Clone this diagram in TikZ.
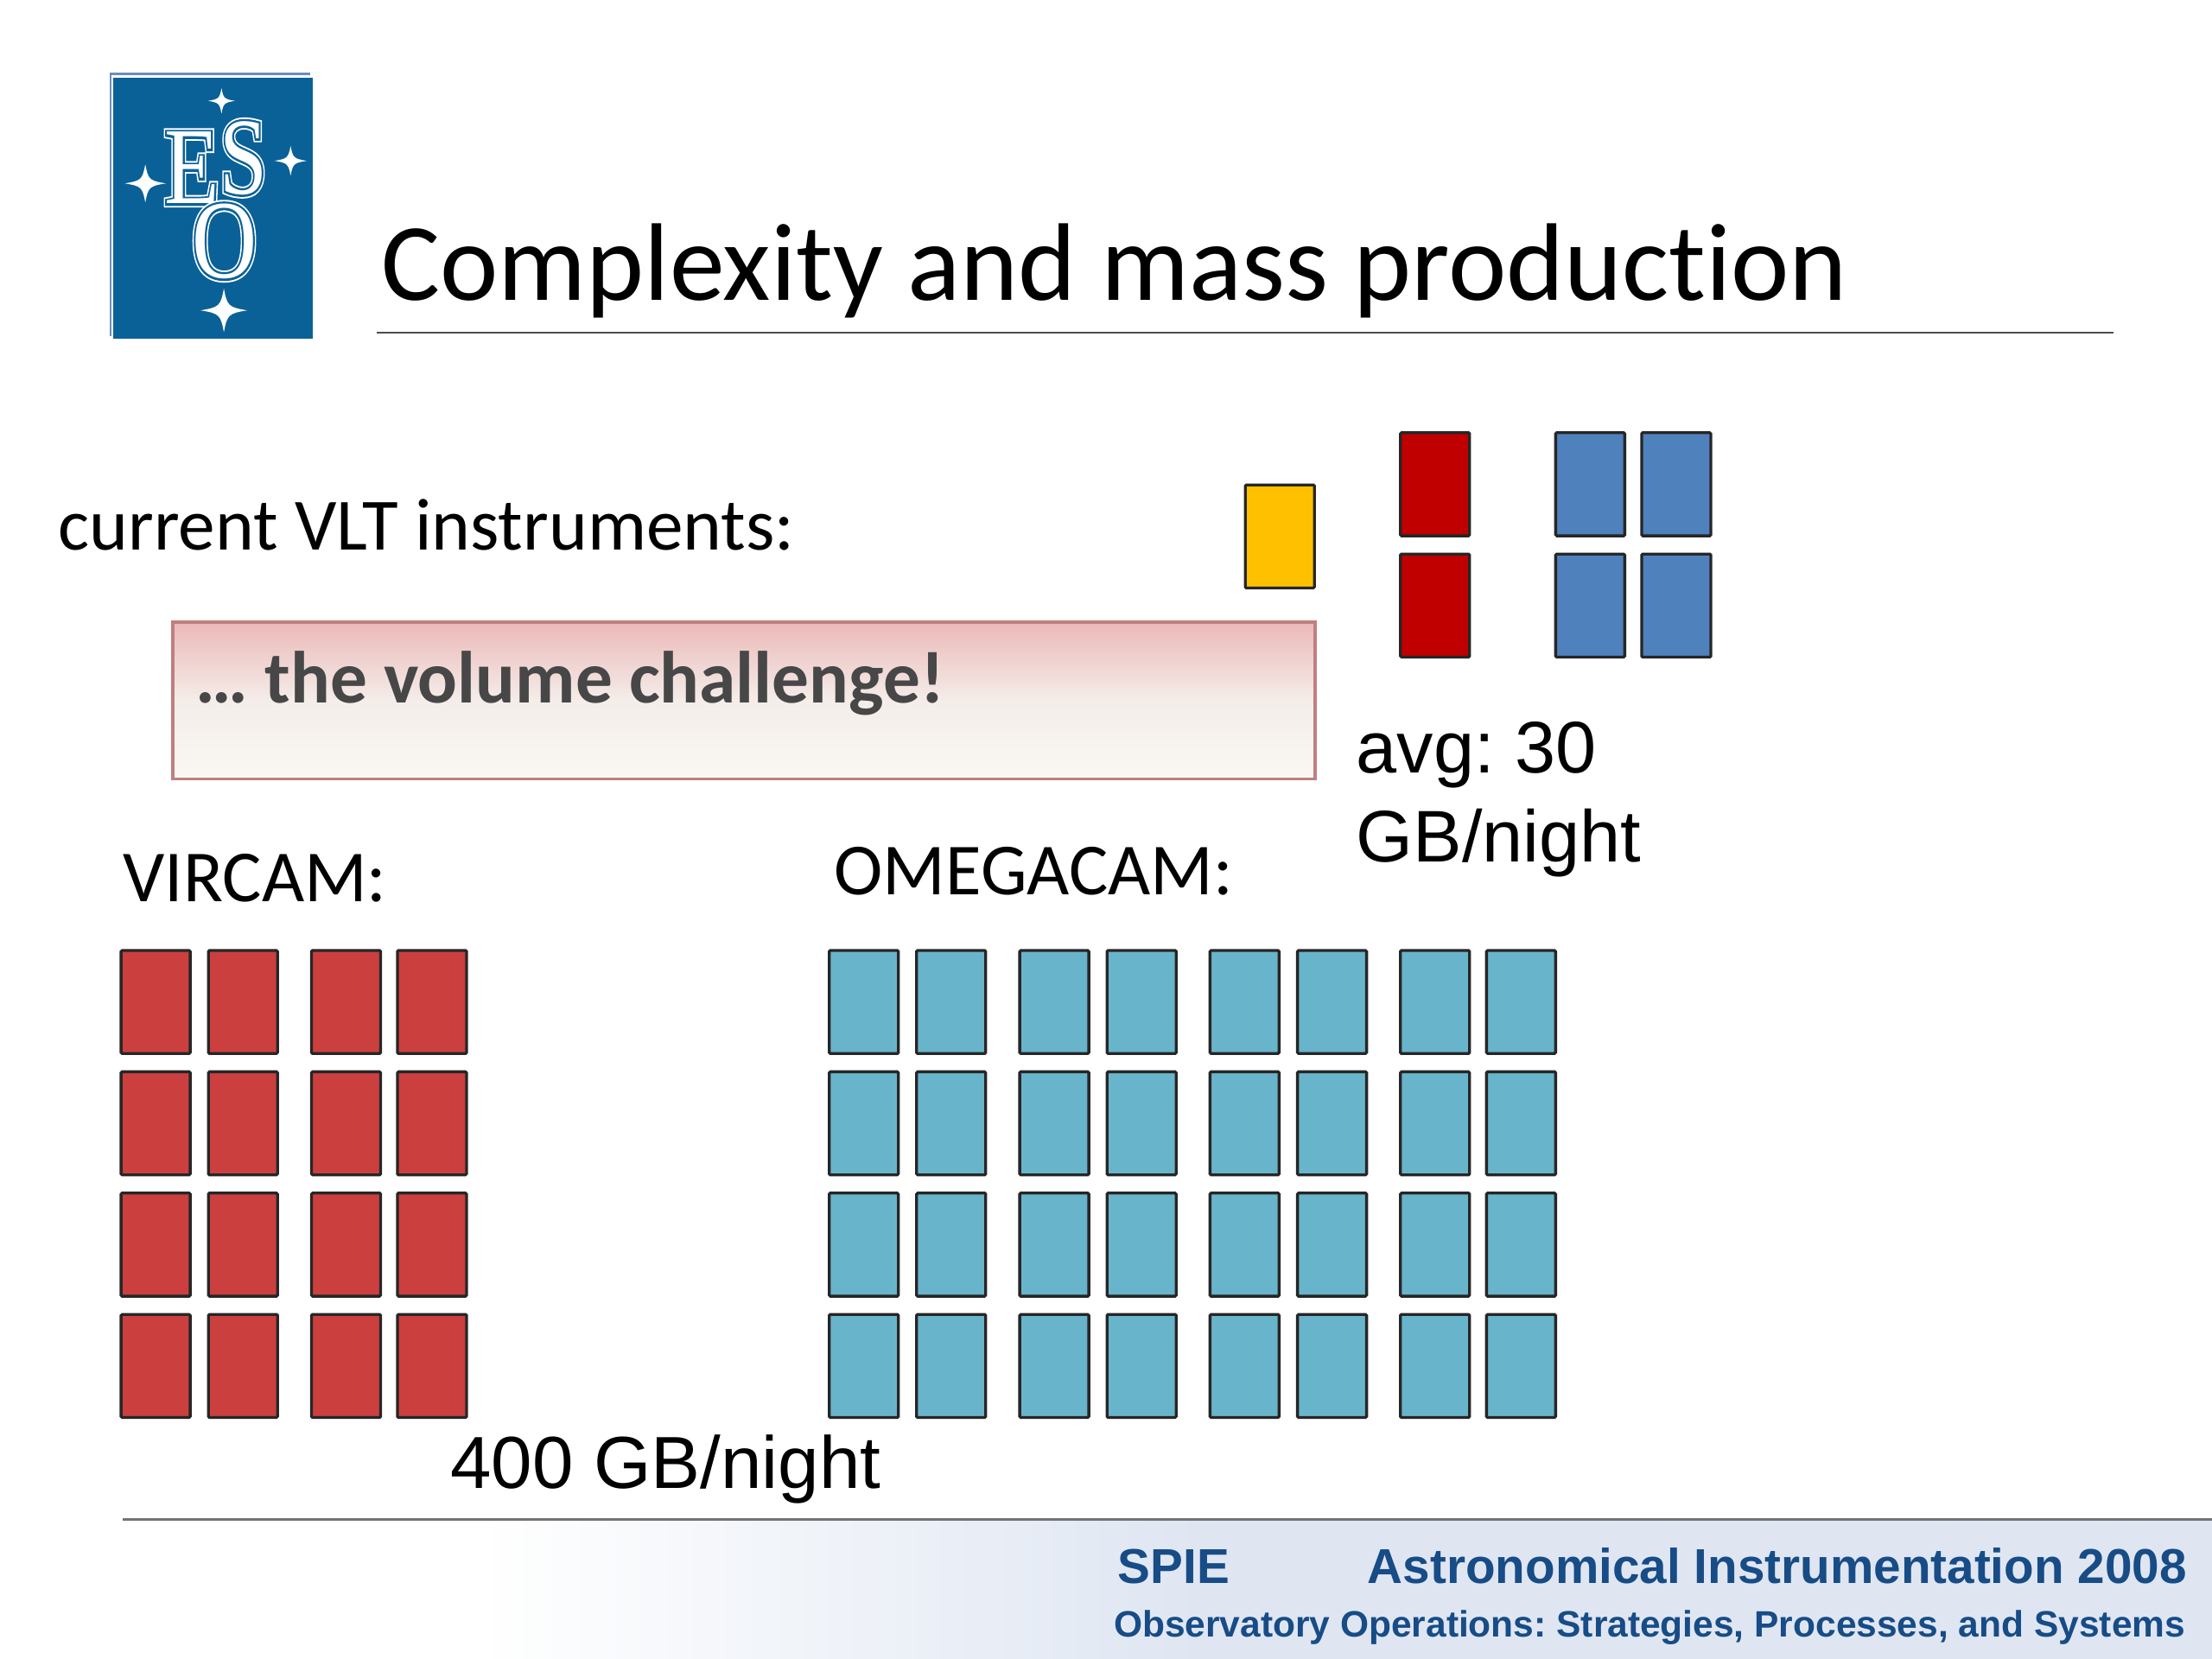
\documentclass[tikz,border=0pt]{standalone}
\usepackage{fontspec}
\setmainfont[Ligatures={TeX,NoCommon}]{Carlito}
\newfontfamily\lib{Liberation Sans}
\newfontfamily\logoA[FakeBold=7]{Liberation Serif}
\newfontfamily\logoB[FakeBold=4]{Liberation Serif}
\newfontfamily\logoC{Liberation Serif}
\definecolor{esoblue}{HTML}{0A6198}
\definecolor{logoedge}{HTML}{6C8DBB}
\definecolor{cellred}{HTML}{CC3F3F}
\definecolor{celldark}{HTML}{C00000}
\definecolor{cellblue}{HTML}{4F81BD}
\definecolor{cellteal}{HTML}{68B4CB}
\definecolor{cellyellow}{HTML}{FFC000}
\definecolor{footblue}{HTML}{DFE6F2}
\definecolor{foottext}{HTML}{174C86}
\definecolor{volT}{HTML}{EBB9B9}
\definecolor{volM}{HTML}{F4EDE9}
\definecolor{volB}{HTML}{FAF8F4}
\definecolor{volline}{HTML}{C07F7F}
\pgfdeclareverticalshading{volshade}{100bp}{
  color(0bp)=(volB); color(25bp)=(volB); color(50bp)=(volM); color(75bp)=(volT); color(100bp)=(volT)}
\tikzset{
  cell/.style={draw=black!85,line width=1pt,minimum width=24pt,minimum height=35.8pt,inner sep=0pt,anchor=north west,rounded corners=0.4pt},
  virc/.style={cell,fill=cellred},
  omeg/.style={cell,fill=cellteal},
  topred/.style={cell,fill=celldark},
  topblue/.style={cell,fill=cellblue},
  topyel/.style={cell,fill=cellyellow},
  txt/.style={anchor=base west,inner sep=0pt,text=black},
  libtxt/.style={txt,font=\lib\fontsize{25.4}{28}\selectfont},
  foot/.style={inner sep=0pt,text=foottext},
  rulegrey/.style={line width=0.6pt,draw=black!70},
  starfill/.style={fill=white,draw=none},
}
\newcommand{\logostar}[4]{%
  \fill[starfill] (#1+#3,#2) .. controls (#1+0.2*#3,#2+0.14*#4) and (#1+0.14*#3,#2+0.2*#4) .. (#1,#2+#4)
   .. controls (#1-0.14*#3,#2+0.2*#4) and (#1-0.2*#3,#2+0.14*#4) .. (#1-#3,#2)
   .. controls (#1-0.2*#3,#2-0.14*#4) and (#1-0.14*#3,#2-0.2*#4) .. (#1,#2-#4)
   .. controls (#1+0.14*#3,#2-0.2*#4) and (#1+0.2*#3,#2-0.14*#4) .. (#1+#3,#2) -- cycle;}
\newcommand{\logoletter}[6]{%
  \node[inner sep=0pt,text=white,xscale=#4,yscale=#5,transform shape,font=\logoA\fontsize{38}{38}\selectfont] (#6a) at (#1,#2) {#3};
  \node[inner sep=0pt,text=esoblue,xscale=#4,yscale=#5,transform shape,font=\logoB\fontsize{38}{38}\selectfont] (#6b) at (#1,#2) {#3};
  \node[inner sep=0pt,text=white,xscale=#4,yscale=#5,transform shape,font=\logoC\fontsize{38}{38}\selectfont] (#6c) at (#1,#2) {#3};}
\begin{document}
\frenchspacing
\begin{tikzpicture}[x=0.4898pt,y=-0.4898pt]
\useasboundingbox (0,0) rectangle (1568,1176);
\fill[white] (0,0) rectangle (1568,1176);
% logo
\fill[logoedge] (77.6,51.4) rectangle (220,238);
\fill[white] (79,53.5) rectangle (221,239);
\fill[esoblue] (80.5,55) rectangle (221.5,240);
\logostar{157}{71.5}{9.5}{9}
\logostar{103}{130}{14.5}{13.5}
\logostar{206}{114}{11.5}{10.5}
\logostar{158.7}{220}{16.5}{15.5}
\logoletter{136}{119}{E}{0.82}{1}{le}
\logoletter{172.5}{112}{S}{0.78}{1}{ls}
\logoletter{159}{171}{O}{0.82}{1.02}{lo}
% title
\node[txt,font=\fontsize{38.3}{42}\selectfont] (title) at (270,213) {Complexity and mass production};
\draw[rulegrey] (267,236) coordinate (ta) -- (1498,236) coordinate (tb);
% label
\node[txt,font=\fontsize{25.6}{28}\selectfont] (cur) at (41,390) {current VLT instruments:};
% volume box
\node[inner sep=0pt,minimum width=396.2pt,minimum height=54pt,anchor=north west,shading=volshade] (volbox) at (122.4,441) {};
\draw[draw=volline,line width=1.1pt] (volbox.north west) rectangle (volbox.south east);
\node[txt,font=\bfseries\fontsize{25.6}{28}\selectfont,text=black!72] (vol) at (138.5,498) {… the volume challenge!};
% top cells
\node[topyel] (y1) at (881.7,342.7) {};
\node[topred] (r1) at (991.7,305.7) {};
\node[topred] (r2) at (991.7,391.7) {};
\node[topblue] (b1) at (1101.7,305.7) {};
\node[topblue] (b2) at (1162.7,305.7) {};
\node[topblue] (b3) at (1101.7,391.7) {};
\node[topblue] (b4) at (1162.7,391.7) {};
\node[libtxt] (avg) at (961,548) {avg: 30};
\node[libtxt] (gb) at (961,611) {GB/night};
\node[txt,font=\fontsize{25.5}{28}\selectfont] (virlab) at (87,639) {VIRCAM:};
\node[txt,font=\fontsize{25.5}{28}\selectfont] (omlab) at (591,634) {OMEGACAM:};
\foreach \y [count=\j] in {672.7,758.7,844.7,930.7}{
  \foreach \x [count=\i] in {84.8,146.7,219.8,280.7}{
    \node[virc] (v\i\j) at (\x,\y) {};}
  \foreach \x [count=\i] in {586.8,648.7,721.8,783.7,856.7,918.7,991.7,1052.7}{
    \node[omeg] (o\i\j) at (\x,\y) {};}
}
\node[libtxt,font=\lib\fontsize{25.6}{28}\selectfont] (gb400) at (319,1055) {400 GB/night};
% footer
\shade[left color=white,right color=footblue] (340,1078) rectangle (850,1176);
\fill[footblue] (849,1078) rectangle (1568,1176);
\draw[line width=1.1pt,draw=black!55] (87,1077) -- (1568,1077);
\node[foot,anchor=base west,font=\lib\bfseries\fontsize{17}{20}\selectfont] (spie) at (792,1122.5) {SPIE};
\node[foot,anchor=base east,font=\lib\bfseries\fontsize{17}{20}\selectfont] (ai) at (1550.5,1122.5) {Astronomical Instrumentation 2008};
\node[foot,anchor=base east,font=\lib\bfseries\fontsize{12.75}{15}\selectfont] (oo) at (1549.5,1160.5) {Observatory Operations: Strategies, Processes, and Systems};
\end{tikzpicture}
\end{document}
